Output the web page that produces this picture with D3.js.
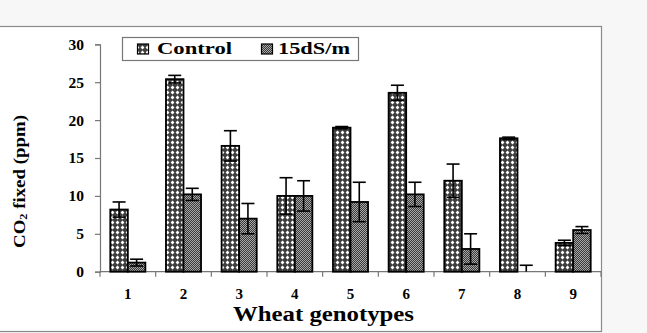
<!DOCTYPE html>
<html>
<head>
<meta charset="utf-8">
<script src="https://cdn.jsdelivr.net/npm/d3@7"></script>
<style>
html,body{margin:0;padding:0;background:#f7f7f7;}
svg{display:block;}
</style>
</head>
<body>
<svg id="chart" width="647" height="333"></svg>
<script>
const categories = ["1","2","3","4","5","6","7","8","9"];
const seriesNames = ["Control","15dS/m"];
const controlValues = [8.2, 25.4, 16.6, 10.0, 19.0, 23.6, 12.0, 17.6, 3.8];
const controlErrors = [1.0, 0.5, 2.0, 2.4, 0.15, 1.0, 2.2, 0.15, 0.35];
const salineValues  = [1.2, 10.2, 7.0, 10.0, 9.2, 10.2, 3.0, 0.0, 5.5];
const salineErrors  = [0.45, 0.8, 2.0, 2.0, 2.6, 1.6, 2.0, 0.85, 0.45];
const yTicks = [0,5,10,15,20,25,30];

const svg = d3.select("#chart");
const font = "'Liberation Serif','Times New Roman',serif";

// frame
svg.append("rect").attr("x",-2).attr("y",26.5).attr("width",603.5).attr("height",305)
  .attr("fill","#fff").attr("stroke","#8a8a8a").attr("stroke-width",1.2);

// patterns
const defs = svg.append("defs");
const p1 = defs.append("pattern").attr("id","pCtrl").attr("patternUnits","userSpaceOnUse")
  .attr("width",5).attr("height",5);
p1.append("rect").attr("width",5).attr("height",5).attr("fill","#3e3e3e");
p1.append("path").attr("d","M2.5,0.6L4.4,2.5L2.5,4.4L0.6,2.5Z").attr("fill","#fff");
const p2 = defs.append("pattern").attr("id","pSalt").attr("patternUnits","userSpaceOnUse")
  .attr("width",2).attr("height",2);
p2.append("rect").attr("width",2).attr("height",2).attr("fill","#3a3a3a");
p2.append("rect").attr("width",1).attr("height",1).attr("fill","#a8a8a8");
p2.append("rect").attr("x",1).attr("y",1).attr("width",1).attr("height",1).attr("fill","#a8a8a8");
const fills = ["url(#pCtrl)","url(#pSalt)"];

const x = d3.scaleBand().domain(categories).range([100,601]).paddingInner(0.37).paddingOuter(0.185);
const xs = d3.scaleBand().domain(seriesNames).range([0,x.bandwidth()]);
const y = d3.scaleLinear().domain([0,30]).range([271.7,44.3]);

const data = categories.map((c,i)=>[
  {cat:c, s:seriesNames[0], v:controlValues[i], e:controlErrors[i]},
  {cat:c, s:seriesNames[1], v:salineValues[i], e:salineErrors[i]}
]).flat();

// axes
const yAxis = d3.axisLeft(y).tickValues(yTicks).tickSize(5).tickPadding(11).tickFormat(d3.format("d"));
const gy = svg.append("g").attr("transform","translate(100,0)").call(yAxis);
gy.select(".domain").attr("stroke","#777").attr("stroke-width",1.2);
gy.selectAll(".tick line").attr("stroke","#777").attr("stroke-width",1.2);
gy.selectAll(".tick text").attr("font-family",font).attr("font-weight","bold")
  .attr("font-size","15.5px").attr("fill","#000");

const xAxis = d3.axisBottom(x).tickSize(0).tickPadding(0);
const gx = svg.append("g").attr("transform","translate(0,271.7)").call(xAxis);
gx.select(".domain").attr("stroke","#777").attr("stroke-width",1.2).attr("d","M100,0H601");
gx.selectAll(".tick text").attr("font-family",font).attr("font-weight","bold")
  .attr("font-size","15px").attr("fill","#000").attr("dy",null).attr("y",27.8);
// boundary ticks
const bounds = categories.map(c=>x(c)-x.step()*x.paddingInner()/2).concat([601]);
gx.selectAll(".bt").data(bounds).enter().append("line")
  .attr("x1",d=>d).attr("x2",d=>d).attr("y1",0).attr("y2",5)
  .attr("stroke","#777").attr("stroke-width",1.2);

// bars
svg.append("g").selectAll("rect").data(data).enter().append("rect")
  .attr("x",d=>x(d.cat)+xs(d.s))
  .attr("y",d=>y(d.v))
  .attr("width",xs.bandwidth())
  .attr("height",d=>y(0)-y(d.v))
  .attr("fill",d=>fills[seriesNames.indexOf(d.s)])
  .attr("stroke","#000").attr("stroke-width",d=>d.v>0?1.8:0);

// error bars
const eg = svg.append("g").attr("stroke","#000").attr("stroke-width",1.6);
data.forEach(d=>{
  const cx = x(d.cat)+xs(d.s)+xs.bandwidth()/2;
  const hi = y(d.v+d.e), lo = y(Math.max(0,d.v-d.e));
  const cw = 6.5;
  eg.append("line").attr("x1",cx).attr("x2",cx).attr("y1",hi).attr("y2",lo);
  eg.append("line").attr("x1",cx-cw).attr("x2",cx+cw).attr("y1",hi).attr("y2",hi);
  if (d.v-d.e>0) eg.append("line").attr("x1",cx-cw).attr("x2",cx+cw).attr("y1",lo).attr("y2",lo);
});

// legend
const lg = svg.append("g");
lg.append("rect").attr("x",122.5).attr("y",37.5).attr("width",236).attr("height",23)
  .attr("fill","#fff").attr("stroke","#777").attr("stroke-width",1.2);
const legendItems = [
  {name:seriesNames[0], sx:137.5, tx:157, tl:75},
  {name:seriesNames[1], sx:261.5, tx:278, tl:72}
];
legendItems.forEach((it,i)=>{
  lg.append("rect").attr("x",it.sx).attr("y",44).attr("width",11).attr("height",10)
    .attr("fill",fills[i]).attr("stroke","#000").attr("stroke-width",1.2);
  lg.append("text").attr("x",it.tx).attr("y",54).attr("font-family",font).attr("font-weight","bold")
    .attr("font-size","16px").attr("textLength",it.tl).attr("lengthAdjust","spacingAndGlyphs").text(it.name);
});

// axis titles
svg.append("text").attr("x",323.5).attr("y",321).attr("text-anchor","middle")
  .attr("font-family",font).attr("font-weight","bold").attr("font-size","20px")
  .attr("textLength",181).attr("lengthAdjust","spacingAndGlyphs").text("Wheat genotypes");

const yt = svg.append("text").attr("transform","translate(25,181.5) rotate(-90)")
  .attr("text-anchor","middle").attr("font-family",font).attr("font-weight","bold")
  .attr("font-size","17px").attr("textLength",133).attr("lengthAdjust","spacingAndGlyphs");
yt.append("tspan").text("CO");
yt.append("tspan").attr("font-size","11px").attr("dy",2).text("2");
yt.append("tspan").attr("dy",-2).text(" fixed (ppm)");
</script>
</body>
</html>
